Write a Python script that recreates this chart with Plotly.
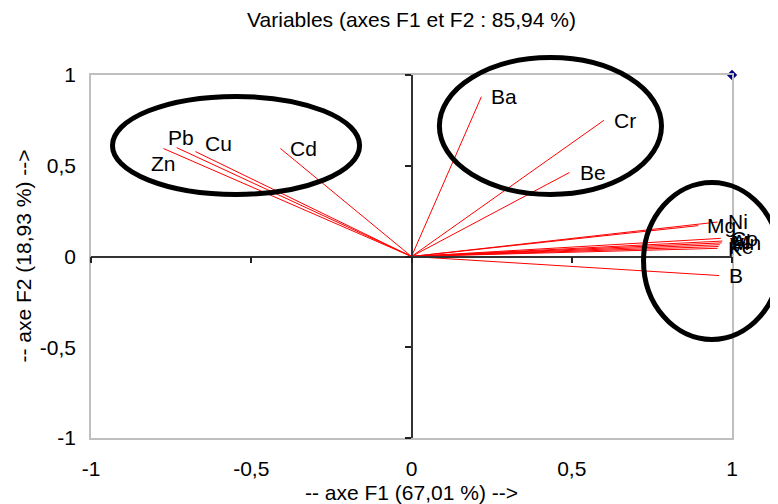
import plotly.graph_objects as go

# Variable loadings on F1 / F2
variables = ["Ba", "Cr", "Be", "Cd", "Cu", "Pb", "Zn",
             "Ni", "Mg", "Co", "Al", "Mn", "V", "Fe", "K", "B"]
f1 = [0.218, 0.600, 0.493, -0.409, -0.674, -0.733, -0.774,
      0.955, 0.895, 0.965, 0.970, 0.968, 0.962, 0.958, 0.955, 0.960]
f2 = [0.880, 0.750, 0.463, 0.595, 0.578, 0.600, 0.595,
      0.190, 0.170, 0.100, 0.085, 0.075, 0.065, 0.055, 0.045, -0.105]
# label anchor relative to the vector end: (xanchor, yanchor, xshift, yshift)
label_anchor = [("left", "middle", 9, 0), ("left", "middle", 9, 0),
                ("left", "middle", 9, 0), ("left", "middle", 9, 0),
                ("left", "middle", 9, 8), ("center", "middle", 4, 10),
                ("center", "middle", 0, -15),
                ("left", "middle", 9, 1), ("left", "middle", 8, 0),
                ("left", "middle", 9, 0), ("left", "middle", 9, 0),
                ("left", "middle", 9, 0), ("left", "middle", 9, 0),
                ("left", "middle", 9, 0), ("left", "middle", 9, 0),
                ("left", "middle", 9, 0)]

corner_x = [1.0]
corner_y = [1.0]

tick_vals = [-1, -0.5, 0, 0.5, 1]
tick_text = ["-1", "-0,5", "0", "0,5", "1"]

# Ellipses (data units: x0, x1, y0, y1)
ellipses = [(-0.933, -0.162, 0.342, 0.882),
            (0.087, 0.780, 0.342, 1.096),
            (0.724, 1.150, -0.457, 0.408)]

FONT = "Liberation Sans, Arial, sans-serif"
FS = 21

# vectors from origin
vx, vy = [], []
for x, y in zip(f1, f2):
    vx += [0, x, None]
    vy += [0, y, None]

fig = go.Figure()
fig.add_trace(go.Scatter(x=vx, y=vy, mode="lines",
                         line=dict(color="#ff0000", width=1),
                         hoverinfo="skip", showlegend=False))
fig.add_trace(go.Scatter(x=corner_x, y=corner_y, mode="markers",
                         marker=dict(symbol="diamond", size=8, color="#00007f",
                                     line=dict(width=0)),
                         showlegend=False, cliponaxis=False))
# invisible trace for the crossing axes
fig.add_trace(go.Scatter(x=[0], y=[0], xaxis="x2", yaxis="y2", mode="markers",
                         marker=dict(opacity=0), hoverinfo="skip", showlegend=False))

for name, x, y, (xa, ya, xs, ys) in zip(variables, f1, f2, label_anchor):
    fig.add_annotation(x=x, y=y, xref="x", yref="y", text=name, showarrow=False,
                       xanchor=xa, yanchor=ya, xshift=xs, yshift=ys,
                       font=dict(family=FONT, size=FS, color="black"), borderpad=0)

def to_paper(v):
    return (v + 1) / 2

for (x0, x1, y0, y1) in ellipses:
    fig.add_shape(type="circle", xref="paper", yref="paper",
                  x0=to_paper(x0), x1=to_paper(x1), y0=to_paper(y0), y1=to_paper(y1),
                  line=dict(color="black", width=5), layer="above")

# axis titles
fig.add_annotation(text="-- axe F1 (67,01 %) -->", xref="paper", yref="paper",
                   x=0.5, y=-54 / 363, xanchor="center", yanchor="middle",
                   showarrow=False, font=dict(family=FONT, size=FS, color="black"))
fig.add_annotation(text="-- axe F2 (18,93 %) -->", xref="paper", yref="paper",
                   x=-68 / 641, y=0.5, xanchor="center", yanchor="middle",
                   textangle=-90, showarrow=False,
                   font=dict(family=FONT, size=FS, color="black"))

common_axis = dict(range=[-1, 1], showgrid=False, zeroline=False,
                   tickvals=tick_vals, ticktext=tick_text, automargin=False)

# page body has an 8px margin: figure is 770x496 so that it fills 778x504
fig.update_layout(
    width=770, height=496,
    margin=dict(l=83, r=46, t=67, b=66, autoexpand=False),
    paper_bgcolor="white", plot_bgcolor="white",
    font=dict(family=FONT, size=FS, color="black"),
    title=dict(text="Variables (axes F1 et F2 : 85,94 %)", x=0.5, xref="paper",
               y=1 - 12 / 496, yref="container", yanchor="middle", xanchor="center",
               font=dict(family=FONT, size=FS, color="black")),
    xaxis=dict(**common_axis, showline=True, mirror=True, linecolor="#bfbfbf",
               linewidth=1.5, ticks="", ticklabelstandoff=11),
    yaxis=dict(**common_axis, showline=True, mirror=True, linecolor="#bfbfbf",
               linewidth=1.5, ticks="", ticklabelstandoff=9),
    xaxis2=dict(range=[-1, 1], overlaying="x", anchor="free", position=0.5,
                side="bottom", showgrid=False, zeroline=False, showline=True,
                linecolor="#333333", linewidth=1.5, ticks="outside", ticklen=6,
                tickwidth=1.5, tickcolor="#222222", tickvals=tick_vals,
                showticklabels=False, automargin=False),
    yaxis2=dict(range=[-1, 1], overlaying="y", anchor="free", position=0.5,
                side="left", showgrid=False, zeroline=False, showline=True,
                linecolor="#333333", linewidth=1.5, ticks="outside", ticklen=6,
                tickwidth=1.5, tickcolor="#222222", tickvals=tick_vals,
                showticklabels=False, automargin=False),
)

fig.write_html("out.html")
